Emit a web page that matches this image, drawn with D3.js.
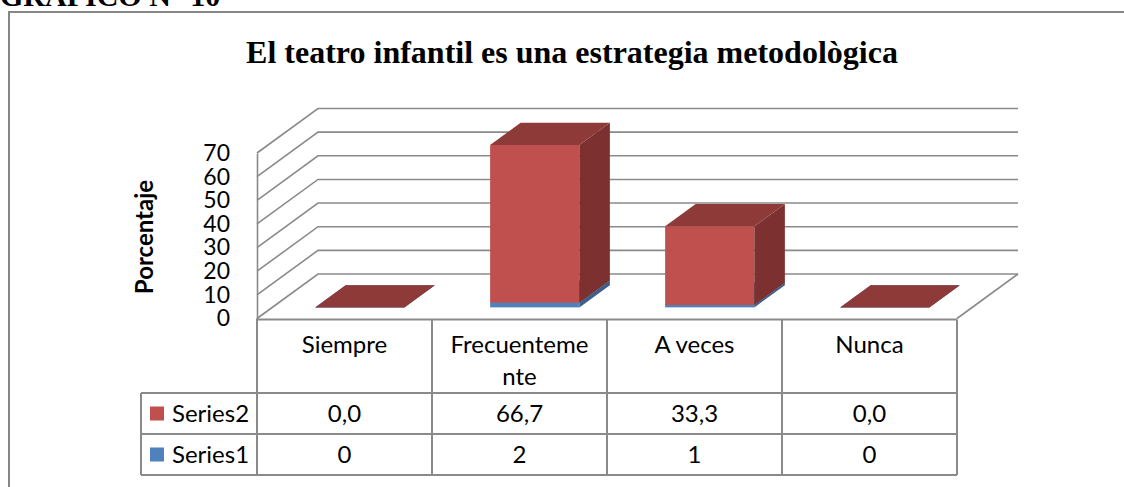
<!DOCTYPE html>
<html>
<head>
<meta charset="utf-8">
<script src="https://cdn.jsdelivr.net/npm/d3@7"></script>
<style>
  body { margin: 0; background: #fff; }
  svg { display: block; }
</style>
</head>
<body>
<div class="chart"></div>
<script>
// Data
var categories = ["Siempre", "Frecuentemente", "A veces", "Nunca"];
var categoryLines = [["Siempre"], ["Frecuenteme", "nte"], ["A veces"], ["Nunca"]];
var series1 = [0, 2, 1, 0];
var series2 = [0.0, 66.7, 33.3, 0.0];
var seriesNames = ["Series2", "Series1"]; // table order, top to bottom
var yTicks = [0, 10, 20, 30, 40, 50, 60, 70];

var width = 1124,
    height = 487;

var grid = "#8a8a8a",
    sansFont = "Lato, 'Open Sans', sans-serif",
    serifFont = "'Liberation Serif', 'Times New Roman', serif";

// Colours: [front, side, top]
var colors = {
    Series1: ["#4F81BD", "#3A5F8C", "#3F6797"],
    Series2: ["#C0504D", "#7C3130", "#8E3A38"]
};

// Plot box (front plane) and depth of the 3D floor
var x0 = 257, x1 = 957,
    yZero = 318.5, yMax = 153,
    dx = 61, dy = -44.5;

var yScale = d3.scaleLinear()
    .domain([0, 70])
    .range([yZero, yMax]);

var xScale = d3.scaleBand()
    .domain(categories)
    .range([x0, x1]);

var svg = d3.select(".chart")
    .append("svg")
    .attr("width", width)
    .attr("height", height)

// outer frame (runs off the page on the right and bottom)
svg.append("path")
    .attr("d", "M9,487V12H1124")
    .attr("fill", "none")
    .attr("stroke", "#868686")
    .attr("stroke-width", 2)

// clipped heading above the frame
svg.append("text")
    .text("GRAFICO N° 10")
    .attr("x", 0)
    .attr("y", 6)
    .attr("font-family", serifFont)
    .attr("font-weight", "bold")
    .attr("font-size", 30)
    .attr("fill", "black")

svg.append("text")
    .text("El teatro infantil es una estrategia metodològica")
    .attr("x", 572)
    .attr("y", 63)
    .attr("text-anchor", "middle")
    .attr("font-family", serifFont)
    .attr("font-weight", "bold")
    .attr("font-size", 32)
    .attr("fill", "black")

// Gridlines on the side and back walls
var g = svg.append("g")

g.selectAll(".grid")
    .data(yTicks)
    .enter()
    .append("path")
    .attr("class", "grid")
    .attr("d", (d) => {
        var y = yScale(d);
        return "M" + x0 + "," + y + "L" + (x0 + dx) + "," + (y + dy) + "H" + (x1 + dx);
    })
    .attr("fill", "none")
    .attr("stroke", grid)
    .attr("stroke-width", 1.6)

// floor right edge
g.append("path")
    .attr("d", "M" + x1 + "," + yZero + "L" + (x1 + dx) + "," + (yZero + dy))
    .attr("fill", "none")
    .attr("stroke", grid)
    .attr("stroke-width", 1.6)

// Y axis
var yAxis = g.append("g")
    .attr("transform", "translate(" + x0 + ",0)")
    .call(d3.axisLeft(yScale).tickValues(yTicks).tickSize(0).tickSizeOuter(0).tickPadding(27))

yAxis.select(".domain")
    .attr("stroke", grid)
    .attr("stroke-width", 1.6)

yAxis.selectAll("text")
    .attr("font-family", sansFont)
    .attr("font-size", 23)
    .attr("fill", "black")

svg.append("text")
    .text("Porcentaje")
    .attr("transform", "translate(145,237) rotate(-90)")
    .attr("text-anchor", "middle")
    .attr("dy", "0.35em")
    .attr("font-family", sansFont)
    .attr("font-weight", "bold")
    .attr("font-size", 24)
    .attr("fill", "black")

// Stacked 3D bars
var rows = categories.map((c, i) => { return { cat: c, Series1: series1[i], Series2: series2[i] }; });
var stacked = d3.stack().keys(["Series1", "Series2"])(rows);

var barW = xScale.bandwidth() * 0.51,
    fx = dx * 0.25, fy = dy * 0.25,   // front of bars sits a quarter into the depth
    bx = dx * 0.5, by = dy * 0.5;     // bars are half the depth deep

var bars = g.append("g")

stacked.forEach((layer) => {
    var col = colors[layer.key];
    layer.forEach((seg) => {
        var xl = xScale(seg.data.cat) + (xScale.bandwidth() - barW) / 2 + fx,
            xr = xl + barW,
            yb = yScale(seg[0]) + fy,
            yt = yScale(seg[1]) + fy;

        bars.append("rect")
            .attr("x", xl)
            .attr("y", yt)
            .attr("width", barW)
            .attr("height", yb - yt)
            .attr("fill", col[0])

        bars.append("path")
            .attr("d", "M" + xr + "," + yt + "L" + (xr + bx) + "," + (yt + by) +
                "L" + (xr + bx) + "," + (yb + by) + "L" + xr + "," + yb + "Z")
            .attr("fill", col[1])

        bars.append("path")
            .attr("d", "M" + xl + "," + yt + "L" + (xl + bx) + "," + (yt + by) +
                "L" + (xr + bx) + "," + (yt + by) + "L" + xr + "," + yt + "Z")
            .attr("fill", col[2])
    })
})

// Data table under the chart
var tTop = yZero + 1, tHead = 393, tRow1 = 434, tBottom = 475, tLeft = 141;
var table = svg.append("g")
    .attr("stroke", grid)
    .attr("stroke-width", 2)
    .attr("fill", "none")

table.append("path").attr("d", "M" + x0 + "," + tTop + "H" + x1)
table.append("path").attr("d", "M" + x0 + "," + yZero + "V" + tBottom)
table.append("path").attr("d", "M" + tLeft + "," + tHead + "V" + tBottom)
table.selectAll(".hline")
    .data([tHead, tRow1, tBottom])
    .enter()
    .append("path")
    .attr("d", (d) => { return "M" + tLeft + "," + d + "H" + x1; })
table.selectAll(".vline")
    .data(categories)
    .enter()
    .append("path")
    .attr("d", (d) => { var x = xScale(d) + xScale.bandwidth(); return "M" + x + "," + tTop + "V" + tBottom; })

// header labels
var head = svg.append("g")
    .attr("font-family", sansFont)
    .attr("font-size", 24)
    .attr("fill", "black")
    .attr("text-anchor", "middle")

categories.forEach((c, i) => {
    categoryLines[i].forEach((line, j) => {
        head.append("text")
            .text(line)
            .attr("x", xScale(c) + xScale.bandwidth() / 2)
            .attr("y", 353 + j * 32)
    })
})

var fmt1 = (v) => { return d3.format(".1f")(v).replace(".", ","); };
var tableRows = [
    { name: seriesNames[0], values: series2.map(fmt1), y0: tHead, y1: tRow1 },
    { name: seriesNames[1], values: series1.map((v) => { return String(v); }), y0: tRow1, y1: tBottom }
];

tableRows.forEach((r) => {
    var cy = (r.y0 + r.y1) / 2;
    svg.append("rect")
        .attr("x", 150)
        .attr("y", cy - 7)
        .attr("width", 14)
        .attr("height", 14)
        .attr("fill", colors[r.name][0])
    svg.append("text")
        .text(r.name)
        .attr("x", 172)
        .attr("y", cy)
        .attr("dy", "0.35em")
        .attr("font-family", sansFont)
        .attr("font-size", 24)
        .attr("fill", "black")
    r.values.forEach((v, i) => {
        head.append("text")
            .text(v)
            .attr("x", xScale(categories[i]) + xScale.bandwidth() / 2)
            .attr("y", cy)
            .attr("dy", "0.35em")
    })
})
</script>
</body>
</html>
